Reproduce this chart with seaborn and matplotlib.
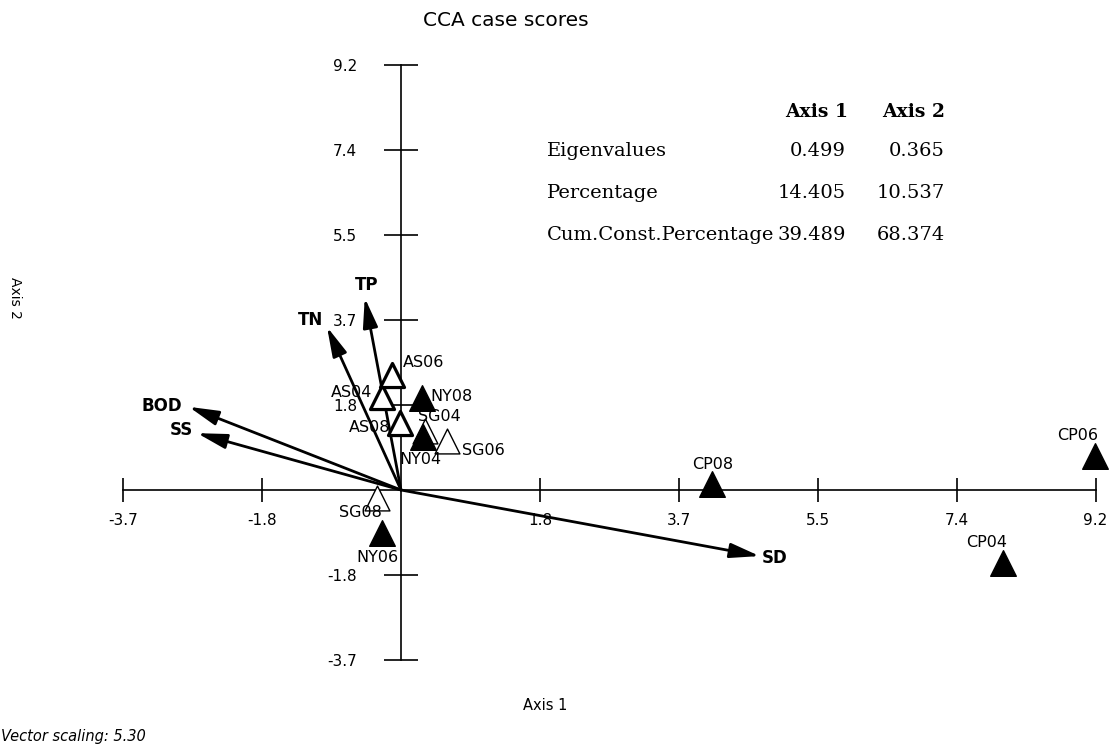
import matplotlib
matplotlib.use("Agg")
import matplotlib.pyplot as plt
import pandas as pd
import seaborn as sns

# ---- case scores (CCA axis 1 / axis 2) ----
sites = ["AS04", "AS06", "AS08", "SG04", "SG06", "SG08",
         "NY04", "NY06", "NY08", "CP04", "CP06", "CP08"]
axis1 = [-0.25, -0.12, -0.01, 0.32, 0.61, -0.32,
         0.29, -0.25, 0.28, 7.97, 9.19, 4.12]
axis2 = [2.01, 2.49, 1.45, 1.28, 1.06, -0.17,
         1.15, -0.93, 1.99, -1.58, 0.74, 0.13]

# ---- environmental vectors (scaled) ----
variables = ["TP", "TN", "BOD", "SS", "SD"]
vec1 = [-0.48, -0.98, -2.81, -2.70, 4.75]
vec2 = [4.16, 3.53, 1.80, 1.23, -1.43]

# ---- axis ticks ----
tick_values = [-3.68, -1.84, 1.84, 3.68, 5.52, 7.36, 9.2]
tick_labels = ["-3.7", "-1.8", "1.8", "3.7", "5.5", "7.4", "9.2"]

# ---- summary table ----
stat_rows = ["Eigenvalues", "Percentage", "Cum.Const.Percentage"]
stat_axis1 = ["0.499", "14.405", "39.489"]
stat_axis2 = ["0.365", "10.537", "68.374"]

df = pd.DataFrame({"site": sites, "axis1": axis1, "axis2": axis2})
df["group"] = df["site"].str[:2]

sns.set_style("white")
plt.rcParams["font.family"] = ["DejaVu Sans"]
plt.rcParams["text.color"] = "black"
plt.rcParams["axes.labelcolor"] = "black"
plt.rcParams["xtick.color"] = "black"
plt.rcParams["ytick.color"] = "black"

W, H = 1116, 744
fig = plt.figure(figsize=(W / 100, H / 100), dpi=100)

# layout: origin pixel and pixel-per-unit scale on each axis
ox, oy = 401.0, 490.0
sx, sy = 75.5, 46.2
xlim = (-4.2, 9.45)
ylim = (-5.2, 10.0)
left = (ox + xlim[0] * sx) / W
width = (xlim[1] - xlim[0]) * sx / W
bottom = 1 - (oy - ylim[0] * sy) / H
height = (ylim[1] - ylim[0]) * sy / H
ax = fig.add_axes([left, bottom, width, height])

# environmental arrows
for name, v1, v2 in zip(variables, vec1, vec2):
    ax.annotate("", xy=(v1, v2), xytext=(0, 0),
                arrowprops=dict(arrowstyle="-|>,head_length=1.2,head_width=0.3",
                                mutation_scale=15, lw=2.0, color="black",
                                shrinkA=0, shrinkB=0), zorder=3)

vec_label_pos = {"TP": (2, 13, "center"), "TN": (-4, 7, "right"),
                 "BOD": (-7, 1, "right"), "SS": (-4, 3, "right"),
                 "SD": (2, -2, "left")}
for name, v1, v2 in zip(variables, vec1, vec2):
    dx, dy, ha = vec_label_pos[name]
    ax.annotate(name, xy=(v1, v2), xytext=(dx, dy), textcoords="offset pixels",
                ha=ha, va="center", fontsize=12, fontweight="bold", zorder=5)

# site markers by group
group_style = {
    "AS": dict(facecolor="white", edgecolor="black", linewidth=2.3, s=300),
    "SG": dict(facecolor="white", edgecolor="black", linewidth=1.0, s=320),
    "NY": dict(facecolor="black", edgecolor="black", linewidth=1.0, s=340),
    "CP": dict(facecolor="black", edgecolor="black", linewidth=1.0, s=340),
}
for grp in ["AS", "SG", "NY", "CP"]:
    sub = df[df["group"] == grp]
    st = group_style[grp]
    sns.scatterplot(data=sub, x="axis1", y="axis2", marker="^", ax=ax,
                    s=st["s"], facecolor=st["facecolor"],
                    edgecolor=st["edgecolor"], linewidth=st["linewidth"],
                    zorder=4, legend=False, clip_on=False)

site_label_pos = {
    "AS06": (11, 12, "left"), "AS04": (-10, 5, "right"),
    "NY08": (8, 2, "left"), "AS08": (-10, -4, "right"),
    "SG04": (-7, 14, "left"), "NY04": (-2, -23, "center"),
    "SG06": (15, -9, "left"), "SG08": (-16, -15, "center"),
    "NY06": (-5, -25, "center"), "CP04": (-16, 20, "center"),
    "CP06": (-17, 20, "center"), "CP08": (1, 19, "center"),
}
for _, row in df.iterrows():
    dx, dy, ha = site_label_pos[row["site"]]
    ax.annotate(row["site"], xy=(row["axis1"], row["axis2"]), xytext=(dx, dy),
                textcoords="offset pixels", ha=ha, va="center",
                fontsize=11.5, zorder=6)

# axes crossing at the origin
ax.set_xlim(*xlim)
ax.set_ylim(*ylim)
for side in ("top", "right"):
    ax.spines[side].set_visible(False)
ax.spines["left"].set_position(("data", 0))
ax.spines["bottom"].set_position(("data", 0))
ax.spines["bottom"].set_bounds(tick_values[0], tick_values[-1])
ax.spines["left"].set_bounds(tick_values[0], tick_values[-1])
for side in ("left", "bottom"):
    ax.spines[side].set_linewidth(1.2)
    ax.spines[side].set_color("black")
ax.set_xticks(tick_values)
ax.set_xticklabels(tick_labels)
ax.set_yticks(tick_values)
ax.set_yticklabels(tick_labels)
ax.tick_params(axis="x", direction="inout", length=17, width=1.2, pad=8,
               labelsize=11, colors="black", bottom=True)
ax.tick_params(axis="y", direction="inout", length=25, width=1.2, pad=19,
               labelsize=11, colors="black", left=True)
ax.set_xlabel("")
ax.set_ylabel("")


def ftext(px, py, s, **kw):
    fig.text(px / W, 1 - py / H, s, **kw)


ftext(506, 20, "CCA case scores", ha="center", va="center", fontsize=14.5)
ftext(545, 705, "Axis 1", ha="center", va="center", fontsize=10.5)
ftext(15, 298, "Axis 2", ha="center", va="center", fontsize=10, rotation=270)
ftext(1, 736, "Vector scaling: 5.30", ha="left", va="center",
      fontsize=10.5, style="italic")

# summary statistics table
serif = ["DejaVu Serif"]
ftext(848, 112, "Axis 1", ha="right", va="center", fontsize=13.5,
      fontweight="bold", family=serif)
ftext(945, 112, "Axis 2", ha="right", va="center", fontsize=13.5,
      fontweight="bold", family=serif)
row_y = [151, 193, 235]
for label, a1, a2, y in zip(stat_rows, stat_axis1, stat_axis2, row_y):
    ftext(547, y, label, ha="left", va="center", fontsize=14, family=serif)
    ftext(846, y, a1, ha="right", va="center", fontsize=14, family=serif)
    ftext(945, y, a2, ha="right", va="center", fontsize=14, family=serif)

fig.savefig("out.png", dpi=100)
